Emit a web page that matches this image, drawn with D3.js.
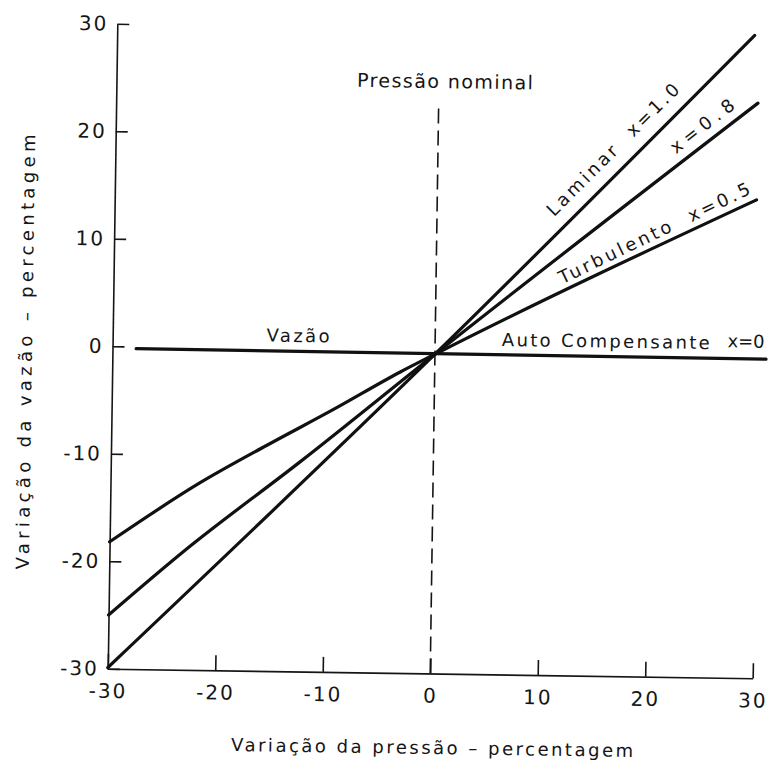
<!DOCTYPE html>
<html>
<head>
<meta charset="utf-8">
<script src="https://cdn.jsdelivr.net/npm/d3@7"></script>
<style>
  html, body { margin: 0; padding: 0; background: #fff; }
  svg { display: block; }
  text { font-family: "DejaVu Sans", sans-serif; fill: #151515; white-space: pre; }
</style>
</head>
<body>
<script>
// Axis tick values (percent)
const xTicks = [-30, -20, -10, 0, 10, 20, 30];
const yTicks = [30, 20, 10, 0, -10, -20, -30];

// Flow variation vs pressure variation for each emitter exponent x
const pressaoLaminar = [-30, 0, 29.3];
const vazaoLaminar   = [-29.9, -0.3, 29.8];

const pressaoX08 = [-30, -23, -12.4, 0, 29.7];
const vazaoX08   = [-25.0, -18.9, -10.5, -0.3, 23.5];

const pressaoX05 = [-30, -21.7, -15.5, -9.4, -3.2, 0, 29.7];
const vazaoX05   = [-18.2, -12.6, -9.0, -5.6, -2.0, -0.3, 14.5];

const pressaoX0 = [-27.8, 30.8];
const vazaoX0   = [-0.2, -0.3];

// Upper end of the dashed "nominal pressure" marker
const nominalTop = 23.1;

const W = 781, H = 765;
const svg = d3.select("body").append("svg").attr("width", W).attr("height", H);
svg.append("rect").attr("width", W).attr("height", H).attr("fill", "#fff");

// whole drawing sits slightly skewed on the sheet
const g = svg.append("g").attr("transform", "rotate(0.85,435,351)");

const x = d3.scaleLinear().domain([-30, 30]).range([112.5, 757.5]);
const y = d3.scaleLinear().domain([-30, 30]).range([673.5, 28.5]);

const fmt = d => String(d);

// Y axis
const yAxis = g.append("g")
  .attr("transform", `translate(${x(-30)},0)`)
  .call(d3.axisLeft(y).tickValues(yTicks).tickSize(-12).tickSizeOuter(0).tickPadding(9).tickFormat(fmt));

// X axis
const xAxis = g.append("g")
  .attr("transform", `translate(0,${y(-30)})`)
  .call(d3.axisBottom(x).tickValues(xTicks).tickSize(-15).tickSizeOuter(0).tickPadding(15).tickFormat(fmt));

[yAxis, xAxis].forEach(a => {
  a.select(".domain").attr("stroke", "#151515").attr("stroke-width", 1.6);
  a.selectAll(".tick line").attr("stroke", "#151515").attr("stroke-width", 1.6);
  a.selectAll(".tick text")
    .attr("font-size", 20)
    .attr("letter-spacing", 2)
    .attr("font-family", "DejaVu Sans, sans-serif")
    .attr("fill", "#151515");
});

// Dashed nominal-pressure line
g.append("line")
  .attr("x1", x(0)).attr("x2", x(0))
  .attr("y1", y(-30)).attr("y2", y(nominalTop))
  .attr("stroke", "#151515").attr("stroke-width", 1.6)
  .attr("stroke-dasharray", "15,7");

// Curves
const line = d3.line()
  .x(d => x(d[0]))
  .y(d => y(d[1]))
  .curve(d3.curveMonotoneX);

const series = [
  { p: pressaoLaminar, q: vazaoLaminar },
  { p: pressaoX08, q: vazaoX08 },
  { p: pressaoX05, q: vazaoX05 },
  { p: pressaoX0, q: vazaoX0 }
];

g.selectAll("path.curve")
  .data(series)
  .enter().append("path")
  .attr("class", "curve")
  .attr("d", s => line(s.p.map((v, i) => [v, s.q[i]])))
  .attr("fill", "none")
  .attr("stroke", "#111")
  .attr("stroke-width", 3.2)
  .attr("stroke-linecap", "round");

// Label running along the straight upper branch of a curve
function alongLabel(p, q, txt, startAlong, offset, len) {
  const i0 = p.indexOf(0);
  const i1 = p.length - 1;
  const x0 = x(p[i0]), y0 = y(q[i0]);
  const x1 = x(p[i1]), y1 = y(q[i1]);
  const L = Math.hypot(x1 - x0, y1 - y0);
  const ux = (x1 - x0) / L, uy = (y1 - y0) / L;
  const nx = uy, ny = -ux;
  const px = x0 + ux * startAlong + nx * offset;
  const py = y0 + uy * startAlong + ny * offset;
  const ang = Math.atan2(uy, ux) * 180 / Math.PI;
  g.append("text")
    .attr("transform", `translate(${px},${py}) rotate(${ang})`)
    .attr("font-size", 18)
    .attr("textLength", len)
    .attr("lengthAdjust", "spacing")
    .text(txt);
}

alongLabel(pressaoLaminar, vazaoLaminar, "Laminar  x=1.0", 181, 13, 179);
alongLabel(pressaoX08, vazaoX08, "x=0.8", 313, 10, 76);
alongLabel(pressaoX05, vazaoX05, "Turbulento  x=0.5", 145, 8, 210);

// Horizontal labels
function plainLabel(px, py, txt, len, anchor, size) {
  g.append("text")
    .attr("x", px).attr("y", py)
    .attr("font-size", size)
    .attr("text-anchor", anchor)
    .attr("textLength", len)
    .attr("lengthAdjust", "spacing")
    .text(txt);
}

plainLabel(x(0) + 6, 88, "Pressão nominal", 176, "middle", 19);
plainLabel(x(-12.75), y(0) - 7, "Vazão", 63, "middle", 18);
plainLabel(x(6.2), y(0) - 6, "Auto Compensante", 208, "start", 18);
plainLabel(x(27.2), y(0) - 8, "x=0", 37, "start", 18);

// Axis titles
g.append("text")
  .attr("x", 438).attr("y", 754)
  .attr("font-size", 18)
  .attr("text-anchor", "middle")
  .attr("textLength", 402)
  .attr("lengthAdjust", "spacing")
  .text("Variação da pressão – percentagem");

g.append("text")
  .attr("transform", "translate(32,358) rotate(-90)")
  .attr("font-size", 18)
  .attr("text-anchor", "middle")
  .attr("textLength", 435)
  .attr("lengthAdjust", "spacing")
  .text("Variação da vazão – percentagem");
</script>
</body>
</html>
